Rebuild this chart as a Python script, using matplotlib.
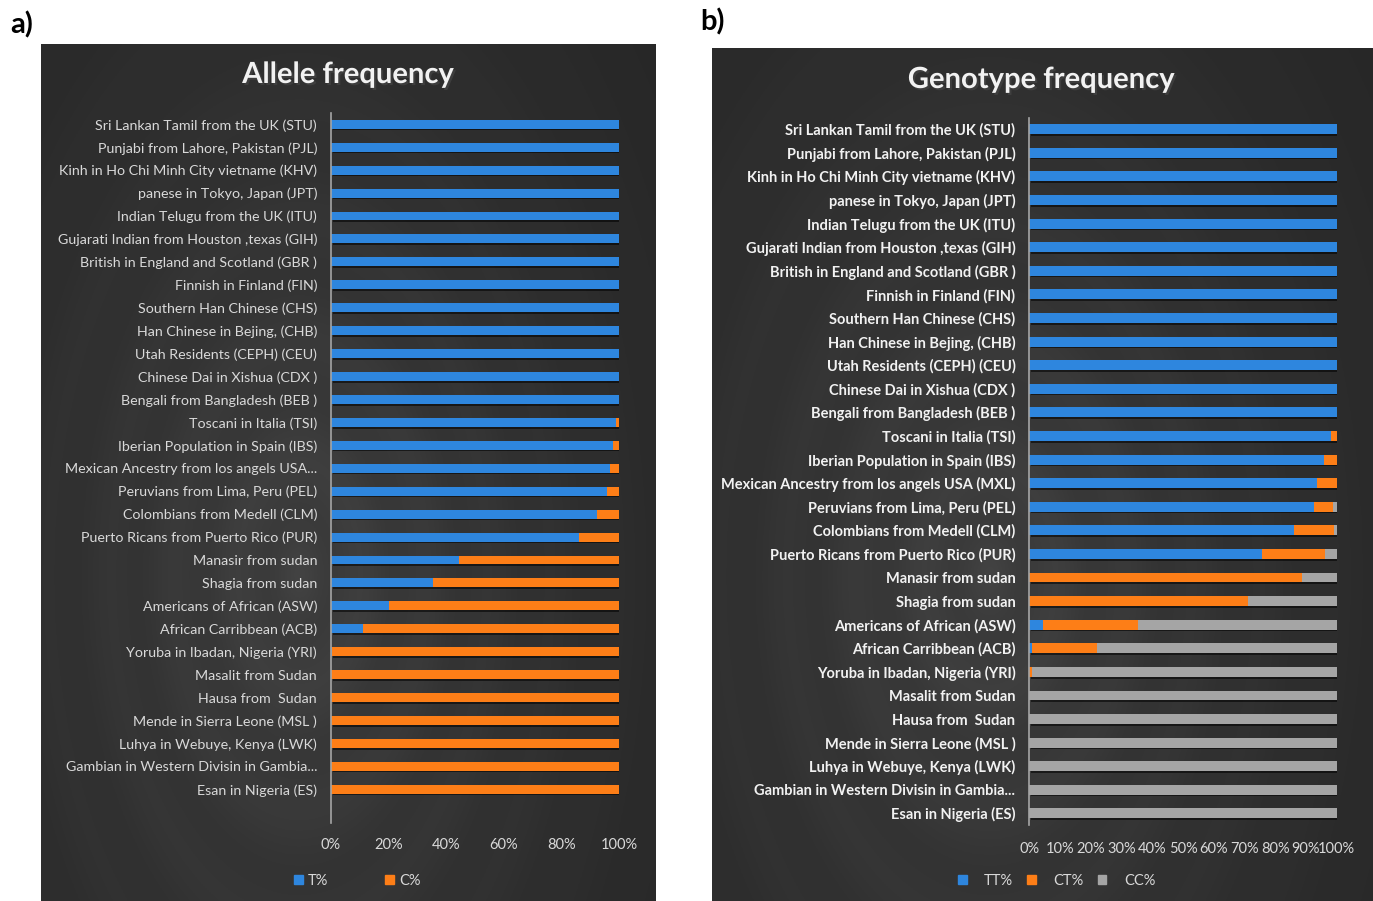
import numpy as np
import matplotlib
matplotlib.use("Agg")
import matplotlib.pyplot as plt
import matplotlib.patheffects as pe
from matplotlib.patches import Patch

plt.rcParams['font.family'] = ['Lato', 'DejaVu Sans']

# ---------------- data ----------------
populations = [
    "Sri Lankan Tamil from the UK (STU)",
    "Punjabi from Lahore, Pakistan (PJL)",
    "Kinh in Ho Chi Minh City vietname (KHV)",
    "panese in Tokyo, Japan (JPT)",
    "Indian Telugu from the UK (ITU)",
    "Gujarati Indian from Houston ,texas (GIH)",
    "British in England and Scotland (GBR )",
    "Finnish in Finland (FIN)",
    "Southern Han Chinese (CHS)",
    "Han Chinese in Bejing, (CHB)",
    "Utah Residents (CEPH) (CEU)",
    "Chinese Dai in Xishua (CDX )",
    "Bengali from Bangladesh (BEB )",
    "Toscani in Italia (TSI)",
    "Iberian Population in Spain (IBS)",
    "Mexican Ancestry from los angels USA (MXL)",
    "Peruvians from Lima, Peru (PEL)",
    "Colombians from Medell (CLM)",
    "Puerto Ricans from Puerto Rico (PUR)",
    "Manasir from sudan",
    "Shagia from sudan",
    "Americans of African (ASW)",
    "African Carribbean (ACB)",
    "Yoruba in Ibadan, Nigeria (YRI)",
    "Masalit from Sudan",
    "Hausa from  Sudan",
    "Mende in Sierra Leone (MSL )",
    "Luhya in Webuye, Kenya (LWK)",
    "Gambian in Western Divisin in Gambia (GWD)",
    "Esan in Nigeria (ES)",
]

# allele frequencies (%)
t_allele = [100, 100, 100, 100, 100, 100, 100, 100, 100, 100, 100, 100, 100,
            99, 98, 97, 96, 92.5, 86, 44.5, 35.5, 20, 11, 0.5,
            0, 0, 0, 0, 0, 0]
c_allele = [100 - t for t in t_allele]

# genotype frequencies (%)
tt_geno = [100, 100, 100, 100, 100, 100, 100, 100, 100, 100, 100, 100, 100,
           98, 96, 93.5, 92.7, 86, 75.7, 0, 0, 4.5, 1, 0,
           0, 0, 0, 0, 0, 0]
ct_geno = [0, 0, 0, 0, 0, 0, 0, 0, 0, 0, 0, 0, 0,
           2, 4, 6.5, 6.2, 13, 20.4, 88.7, 71, 31, 21, 1,
           0, 0, 0, 0, 0, 0]
cc_geno = [100 - a - b for a, b in zip(tt_geno, ct_geno)]

ticks_a = [0, 20, 40, 60, 80, 100]
ticks_b = list(range(0, 101, 10))

# long category names that get clipped with an ellipsis in each panel
clipped_a = {15, 28}
clipped_b = {28}

BLUE = "#2e86de"
ORANGE = "#fd7e17"
GREY = "#a5a5a5"

W, H = 1373, 901
fig = plt.figure(figsize=(W / 100, H / 100), dpi=100)
fig.patch.set_facecolor("white")


def fbox(x0, y0, x1, y1):
    """pixel box (top-left origin) -> figure fraction rect"""
    return [x0 / W, 1 - y1 / H, (x1 - x0) / W, (y1 - y0) / H]


def clip_label(s):
    return s.rsplit(" (", 1)[0] + "..."


def panel_background(rect):
    bg = fig.add_axes(rect, zorder=0)
    ny, nx = 400, 300
    yy, xx = np.mgrid[0:1:ny * 1j, 0:1:nx * 1j]
    r = np.sqrt(((xx - 0.42) * 1.0) ** 2 + ((yy - 0.62) * 0.75) ** 2)
    rings = 0.012 * np.cos(r * 60)
    v = np.clip(1 - r / 0.75, 0, 1) ** 1.3
    g = 0.155 + 0.095 * v + rings * v
    img = np.dstack([g, g, g])
    bg.imshow(img, aspect="auto", extent=[0, 1, 0, 1], origin="upper")
    bg.set_axis_off()
    return bg


shadow = [pe.withSimplePatchShadow(offset=(1.2, -1.2), shadow_rgbFace="black", alpha=0.55)]
title_fx = [pe.withSimplePatchShadow(offset=(1.5, -1.5), alpha=0.6)]

# ---------------- panel a ----------------
panel_background(fbox(41, 44, 656, 901))
axa = fig.add_axes(fbox(331, 113, 619, 823), zorder=2)
axa.patch.set_alpha(0)
ya = np.arange(len(populations))
h_a = 0.39
ba1 = axa.barh(ya, t_allele, height=h_a, color=BLUE, label="T%")
ba2 = axa.barh(ya, c_allele, left=t_allele, height=h_a, color=ORANGE, label="C%")
for b in list(ba1) + list(ba2):
    b.set_path_effects(shadow)
axa.set_xlim(0, 100)
axa.set_ylim(30.47, -0.493)
axa.set_yticks(ya)
axa.set_yticklabels([clip_label(p) if i in clipped_a else p for i, p in enumerate(populations)],
                    color="#d9d9d9", fontsize=10.3)
axa.set_xticks(ticks_a)
axa.set_xticklabels([f"{t}%" for t in ticks_a], color="#d9d9d9", fontsize=10.5)
axa.tick_params(length=0)
axa.tick_params(axis="y", pad=10)
axa.tick_params(axis="x", pad=11)
for s in ["top", "right", "bottom"]:
    axa.spines[s].set_visible(False)
axa.spines["left"].set_color("#a6a6a6")
axa.spines["left"].set_linewidth(1.2)
fig.text(348 / W, 1 - 75 / H, "Allele frequency", ha="center", va="center",
         fontsize=21, color="#f2f2f2", fontweight="bold", path_effects=title_fx)
leg_a = fig.legend(handles=[Patch(color=BLUE), Patch(color=ORANGE)], labels=["T%", "C%"],
                   loc="center left", bbox_to_anchor=(294 / W, 1 - 881 / H),
                   ncol=2, frameon=False, fontsize=10.5, handlelength=0.6, handleheight=0.6,
                   handletextpad=0.35, columnspacing=3.9, borderpad=0, borderaxespad=0)
for t in leg_a.get_texts():
    t.set_color("#d9d9d9")

# ---------------- panel b ----------------
panel_background(fbox(712, 48, 1373, 901))
axb = fig.add_axes(fbox(1029.3, 117.7, 1336.7, 825), zorder=2)
axb.patch.set_alpha(0)
yb = np.arange(len(populations))
h_b = 0.42
left2 = [a + b for a, b in zip(tt_geno, ct_geno)]
bb1 = axb.barh(yb, tt_geno, height=h_b, color=BLUE, label="TT%")
bb2 = axb.barh(yb, ct_geno, left=tt_geno, height=h_b, color=ORANGE, label="CT%")
bb3 = axb.barh(yb, cc_geno, left=left2, height=h_b, color=GREY, label="CC%")
for b in list(bb1) + list(bb2) + list(bb3):
    b.set_path_effects(shadow)
axb.set_xlim(0, 100)
axb.set_ylim(29.49, -0.49)
axb.set_yticks(yb)
axb.set_yticklabels([clip_label(p) if i in clipped_b else p for i, p in enumerate(populations)],
                    color="#f2f2f2", fontsize=10.5, fontweight="bold")
axb.set_xticks(ticks_b)
axb.set_xticklabels([f"{t}%" for t in ticks_b], color="#d9d9d9", fontsize=10.5)
axb.tick_params(length=0)
axb.tick_params(axis="y", pad=10)
axb.tick_params(axis="x", pad=12)
for s in ["top", "right", "bottom"]:
    axb.spines[s].set_visible(False)
axb.spines["left"].set_color("#a6a6a6")
axb.spines["left"].set_linewidth(1.2)
fig.text(1041 / W, 1 - 80 / H, "Genotype frequency", ha="center", va="center",
         fontsize=21, color="#f2f2f2", fontweight="bold", path_effects=title_fx)
leg_b = fig.legend(handles=[Patch(color=BLUE), Patch(color=ORANGE), Patch(color=GREY)],
                   labels=["TT%", "CT%", "CC%"],
                   loc="center left", bbox_to_anchor=(958 / W, 1 - 881 / H),
                   ncol=3, frameon=False, fontsize=10.5, handlelength=0.6, handleheight=0.6,
                   handletextpad=1.2, columnspacing=0.95, borderpad=0, borderaxespad=0)
for t in leg_b.get_texts():
    t.set_color("#d9d9d9")

# panel letters
fig.text(22 / W, 1 - 25 / H, "a)", ha="center", va="center", fontsize=21, fontweight="bold", color="black")
fig.text(712 / W, 1 - 22 / H, "b)", ha="center", va="center", fontsize=21, fontweight="bold", color="black")

fig.savefig("out.png", dpi=100, facecolor="white")
